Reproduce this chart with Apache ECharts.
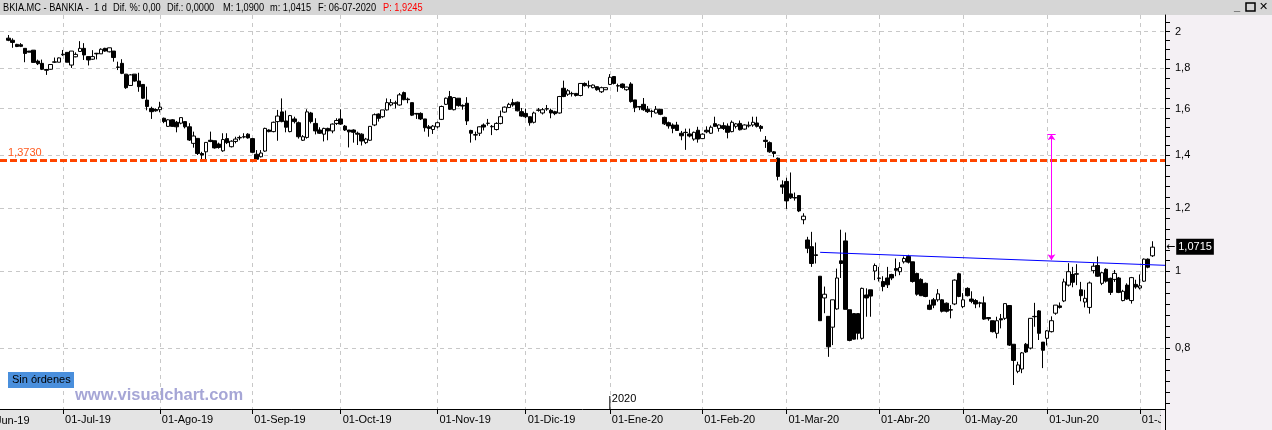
<!DOCTYPE html>
<html>
<head>
<meta charset="utf-8">
<script src="https://cdn.jsdelivr.net/npm/echarts@6/dist/echarts.min.js"></script>
<style>
html,body{margin:0;padding:0;background:#fff;}
#chart{width:1272px;height:430px;}
</style>
</head>
<body>
<div id="chart"></div>
<script>
// BKIA.MC - daily candles 12-06-2019 .. 06-07-2020 (log price scale)
let holidays = ['2019-12-25','2019-12-26','2020-01-01','2020-04-10','2020-04-13','2020-05-01'];
let monthNames = ['Ene','Feb','Mar','Abr','May','Jun','Jul','Ago','Sep','Oct','Nov','Dic'];

let open = [
1.962,1.95,1.927,1.925,1.905,1.89,1.895,1.836,1.824,1.792,
1.793,1.83,1.83,1.87,1.883,1.815,1.859,1.888,1.905,1.86,
1.846,1.878,1.875,1.905,1.886,1.89,1.805,1.824,1.768,1.711,
1.768,1.733,1.716,1.64,1.601,1.596,1.595,1.556,1.52,1.549,
1.538,1.534,1.541,1.518,1.447,1.468,1.405,1.412,1.46,1.458,
1.444,1.416,1.467,1.433,1.455,1.47,1.474,1.486,1.467,1.402,
1.392,1.415,1.504,1.497,1.541,1.585,1.544,1.497,1.553,1.536,
1.46,1.472,1.58,1.533,1.504,1.486,1.511,1.50,1.533,1.553,
1.521,1.504,1.504,1.49,1.486,1.45,1.46,1.526,1.575,1.563,
1.594,1.617,1.625,1.617,1.676,1.645,1.628,1.578,1.578,1.553,
1.518,1.506,1.518,1.551,1.62,1.657,1.595,1.649,1.615,1.625,
1.502,1.484,1.49,1.526,1.533,1.518,1.506,1.533,1.584,1.605,
1.628,1.63,1.586,1.578,1.563,1.538,1.592,1.58,1.598,1.592,
1.586,1.58,1.697,1.668,1.672,1.672,1.662,1.721,1.71,1.70,
1.705,1.68,1.69,1.716,1.756,1.71,1.718,1.69,1.718,1.641,
1.61,1.62,1.597,1.588,1.58,1.597,1.56,1.536,1.526,1.526,
1.49,1.494,1.487,1.465,1.503,1.467,1.503,1.49,1.532,1.511,
1.523,1.521,1.497,1.52,1.533,1.508,1.522,1.526,1.535,1.52,
1.46,1.45,1.412,1.386,1.283,1.296,1.25,1.237,1.244,1.16,
1.094,1.073,1.048,0.985,0.925,0.877,0.85,0.896,1.03,1.091,
0.894,0.884,0.884,0.823,0.933,0.947,1.0,0.98,0.97,0.98,
0.99,1.007,0.998,1.027,1.043,1.027,0.993,0.976,0.965,0.906,
0.92,0.92,0.92,0.911,0.894,0.909,0.992,0.902,0.951,0.922,
0.918,0.912,0.912,0.874,0.866,0.835,0.871,0.872,0.905,0.809,
0.748,0.753,0.809,0.80,0.877,0.891,0.814,0.823,0.839,0.885,
0.904,0.917,0.96,0.99,0.992,0.947,0.914,0.90,1.001,1.016,
0.965,1.005,0.979,0.976,0.98,0.918,0.96,0.918,0.962,0.952,
0.971,1.035,1.045
];
let close = [
1.95,1.938,1.915,1.916,1.877,1.884,1.829,1.822,1.793,1.788,
1.818,1.832,1.853,1.873,1.83,1.89,1.872,1.905,1.869,1.842,
1.86,1.875,1.90,1.89,1.908,1.855,1.803,1.772,1.70,1.764,
1.733,1.705,1.649,1.61,1.586,1.59,1.607,1.541,1.549,1.52,
1.518,1.559,1.518,1.461,1.478,1.405,1.399,1.451,1.455,1.428,
1.43,1.463,1.45,1.456,1.465,1.472,1.475,1.47,1.41,1.382,
1.407,1.511,1.497,1.538,1.566,1.541,1.516,1.568,1.541,1.475,
1.475,1.585,1.541,1.50,1.49,1.511,1.50,1.53,1.546,1.53,
1.504,1.496,1.494,1.486,1.457,1.465,1.52,1.572,1.556,1.594,
1.628,1.628,1.627,1.665,1.642,1.642,1.57,1.575,1.553,1.514,
1.511,1.521,1.536,1.61,1.649,1.597,1.652,1.614,1.612,1.544,
1.49,1.482,1.518,1.517,1.534,1.52,1.533,1.563,1.607,1.62,
1.617,1.59,1.566,1.563,1.536,1.58,1.594,1.595,1.60,1.58,
1.577,1.657,1.657,1.685,1.67,1.662,1.721,1.71,1.708,1.713,
1.69,1.70,1.70,1.752,1.721,1.708,1.701,1.703,1.633,1.605,
1.607,1.595,1.586,1.587,1.597,1.574,1.531,1.522,1.511,1.502,
1.479,1.493,1.478,1.494,1.465,1.486,1.496,1.516,1.52,1.526,
1.511,1.494,1.538,1.531,1.505,1.526,1.525,1.538,1.52,1.511,
1.455,1.412,1.405,1.315,1.275,1.225,1.236,1.235,1.19,1.172,
1.068,1.022,1.046,0.866,0.935,0.803,0.92,0.98,1.022,0.895,
0.818,0.821,0.835,0.951,0.925,0.93,1.016,0.979,0.956,0.961,
0.98,1.002,1.01,1.037,1.026,0.97,0.935,0.931,0.929,0.895,
0.906,0.936,0.89,0.89,0.893,0.974,0.929,0.92,0.931,0.916,
0.909,0.911,0.87,0.871,0.839,0.866,0.868,0.91,0.807,0.772,
0.762,0.789,0.791,0.872,0.876,0.835,0.795,0.841,0.866,0.906,
0.90,0.969,0.998,0.968,0.991,0.931,0.924,0.966,1.014,0.985,
0.995,0.971,0.94,0.993,0.94,0.943,0.922,0.981,0.955,0.958,
1.035,1.011,1.0715
];
let low = [
1.945,1.908,1.912,1.912,1.83,1.884,1.829,1.815,1.789,1.764,
1.79,1.826,1.83,1.864,1.83,1.80,1.856,1.886,1.842,1.813,
1.842,1.845,1.874,1.886,1.883,1.833,1.789,1.768,1.694,1.71,
1.73,1.68,1.645,1.592,1.553,1.586,1.583,1.534,1.518,1.518,
1.494,1.529,1.511,1.457,1.429,1.399,1.375,1.372,1.452,1.425,
1.425,1.412,1.444,1.43,1.447,1.46,1.468,1.467,1.408,1.379,
1.389,1.412,1.494,1.494,1.458,1.538,1.494,1.494,1.533,1.467,
1.457,1.467,1.533,1.485,1.487,1.455,1.46,1.49,1.526,1.526,
1.50,1.43,1.45,1.44,1.438,1.444,1.457,1.521,1.541,1.558,
1.591,1.611,1.601,1.614,1.639,1.625,1.566,1.553,1.548,1.497,
1.475,1.487,1.511,1.548,1.617,1.594,1.592,1.609,1.595,1.526,
1.45,1.46,1.478,1.502,1.523,1.482,1.502,1.529,1.581,1.603,
1.609,1.587,1.563,1.556,1.523,1.533,1.586,1.573,1.59,1.556,
1.57,1.577,1.654,1.66,1.657,1.657,1.658,1.705,1.697,1.697,
1.685,1.674,1.69,1.713,1.716,1.68,1.695,1.685,1.628,1.584,
1.593,1.59,1.58,1.56,1.578,1.57,1.526,1.51,1.49,1.50,
1.46,1.42,1.472,1.458,1.45,1.465,1.49,1.487,1.517,1.497,
1.504,1.468,1.494,1.511,1.502,1.505,1.515,1.518,1.515,1.497,
1.428,1.408,1.39,1.30,1.25,1.197,1.232,1.226,1.186,1.145,
1.053,1.012,1.022,0.866,0.885,0.78,0.807,0.894,0.98,0.895,
0.816,0.82,0.82,0.82,0.876,0.876,0.974,0.97,0.943,0.952,
0.974,0.985,0.988,1.022,1.022,0.967,0.931,0.931,0.927,0.893,
0.898,0.915,0.887,0.887,0.872,0.906,0.927,0.898,0.929,0.911,
0.898,0.90,0.868,0.866,0.837,0.823,0.847,0.868,0.805,0.719,
0.744,0.744,0.789,0.797,0.851,0.819,0.755,0.806,0.837,0.881,
0.897,0.914,0.956,0.954,0.96,0.916,0.90,0.884,0.993,0.983,
0.96,0.967,0.933,0.969,0.938,0.916,0.92,0.91,0.95,0.948,
0.969,1.008,1.0415
];
let high = [
1.98,1.961,1.93,1.934,1.905,1.89,1.895,1.844,1.844,1.795,
1.82,1.855,1.855,1.896,1.883,1.89,1.883,1.945,1.934,1.86,
1.895,1.88,1.905,1.908,1.908,1.89,1.833,1.846,1.768,1.768,
1.768,1.775,1.716,1.705,1.609,1.601,1.632,1.559,1.552,1.552,
1.544,1.559,1.541,1.534,1.497,1.468,1.412,1.451,1.497,1.458,
1.45,1.49,1.49,1.46,1.475,1.48,1.49,1.49,1.47,1.419,
1.419,1.514,1.507,1.541,1.594,1.648,1.591,1.571,1.563,1.541,
1.482,1.597,1.585,1.556,1.516,1.514,1.514,1.533,1.556,1.597,
1.526,1.504,1.507,1.497,1.49,1.47,1.521,1.578,1.578,1.594,
1.648,1.645,1.637,1.674,1.681,1.652,1.628,1.58,1.583,1.553,
1.526,1.526,1.541,1.614,1.652,1.684,1.654,1.649,1.62,1.654,
1.505,1.497,1.52,1.533,1.553,1.526,1.538,1.591,1.61,1.627,
1.646,1.633,1.603,1.60,1.563,1.586,1.603,1.603,1.617,1.60,
1.59,1.66,1.735,1.693,1.68,1.672,1.721,1.726,1.735,1.716,
1.705,1.705,1.70,1.768,1.756,1.72,1.721,1.705,1.727,1.641,
1.61,1.65,1.612,1.595,1.612,1.597,1.563,1.541,1.533,1.54,
1.50,1.51,1.51,1.497,1.518,1.49,1.52,1.524,1.563,1.529,
1.538,1.533,1.546,1.535,1.546,1.529,1.541,1.563,1.563,1.526,
1.478,1.455,1.415,1.389,1.30,1.31,1.33,1.255,1.246,1.182,
1.104,1.12,1.086,0.985,0.956,0.877,0.92,1.007,1.127,1.118,
0.894,0.884,0.884,0.953,0.951,0.947,1.022,1.012,0.985,1.012,
0.992,1.037,1.026,1.043,1.048,1.027,0.995,0.979,0.967,0.92,
0.925,0.949,0.922,0.913,0.906,0.976,0.995,0.938,0.954,0.943,
0.922,0.915,0.929,0.874,0.866,0.876,0.883,0.91,0.905,0.809,
0.769,0.791,0.812,0.872,0.912,0.893,0.814,0.843,0.877,0.906,
0.913,0.978,1.023,1.012,1.02,0.969,0.947,0.97,1.023,1.043,
0.998,1.008,0.981,1.003,0.983,0.947,0.965,0.983,0.975,0.99,
1.037,1.037,1.09
];

let yMajor = [0.8, 1, 1.2, 1.4, 1.6, 1.8, 2];
let minorSplits = [7, 6, 5, 5, 4, 4];     // small ticks between two labelled values
let supportLevel = 1.373;
let lastPrice = 1.0715;
let necklineStart = ['2020-03-12', 1.0556];
let necklineEnd = 1.0166;
let targetDate = '2020-06-02';
let targetRange = [1.486, 1.032];

let lg = (v) => Math.log(v);
let yMin = -0.3994, yMax = 0.741;
let font = 'Liberation Sans, Arial, sans-serif';

// trading days
let dates = [];
let day = new Date(Date.UTC(2019, 5, 12));
while (dates.length < open.length) {
    let iso = day.toISOString().slice(0, 10);
    let wd = day.getUTCDay();
    if (wd !== 0 && wd !== 6 && holidays.indexOf(iso) < 0) dates.push(iso);
    day.setUTCDate(day.getUTCDate() + 1);
}
let cats = ['p0', 'p1'].concat(dates, ['q0', 'q1', 'q2']);
let monthStart = cats.map((c, k) => {
    if (k < 3 || c.length !== 10 || cats[k - 1].length !== 10) return false;
    return c.slice(5, 7) !== cats[k - 1].slice(5, 7);
});
let isMonth = (idx) => monthStart[idx];
let fmtDate = (v) => '01-' + monthNames[+v.slice(5, 7) - 1] + '-' + v.slice(2, 4);
let fmtPrice = (v) => String(parseFloat(v.toFixed(2))).replace('.', ',');

let candles = cats.map((c) => {
    let k = dates.indexOf(c);
    if (k < 0) return ['-', '-', '-', '-'];
    return [lg(open[k]), lg(close[k]), lg(low[k]), lg(high[k])];
});

// every tick of the price axis: labelled ones plus the small ones between them
let allTicks = yMajor.map(lg);
yMajor.slice(0, -1).forEach((v, k) => {
    let a = lg(v), b = lg(yMajor[k + 1]), n = minorSplits[k];
    for (let j = 1; j < n; j++) allTicks.push(a + (b - a) * j / n);
});
let stepLo = (lg(1) - lg(0.8)) / 7, stepHi = (lg(2) - lg(1.8)) / 4;
for (let t = lg(0.8) - stepLo; t > yMin; t -= stepLo) allTicks.push(t);
for (let t = lg(2) + stepHi; t < yMax; t += stepHi) allTicks.push(t);
allTicks.sort((a, b) => a - b);

let tIdx = cats.indexOf(targetDate);

let titleParts = [
    ['BKIA.MC - BANKIA -', 3, '#000'], ['1 d', 94, '#000'], ['Dif. %: 0,00', 113, '#000'],
    ['Dif.: 0,0000', 167, '#000'], ['M: 1,0900', 223, '#000'], ['m: 1,0415', 270, '#000'],
    ['F: 06-07-2020', 318, '#000'], ['P: 1,9245', 383, '#ff0000']
];

let graphics = [
    {type: 'rect', z: -1, shape: {x: 0, y: 0, width: 1272, height: 15}, style: {fill: '#d6d6d6'}},
    {type: 'rect', z: -1, shape: {x: 0, y: 409, width: 1165, height: 21}, style: {fill: '#e4e4e4'}},
    // right panel corner hides the label of the month that runs past the plot
    {type: 'rect', z: 40, shape: {x: 1161, y: 410, width: 111, height: 20}, style: {fill: '#f4f0f4'}},
    {type: 'line', z: 41, shape: {x1: 1165.5, y1: 409, x2: 1165.5, y2: 430}, style: {stroke: '#000', lineWidth: 1}},
    {type: 'rect', z: 50, shape: {x: 8, y: 372, width: 66, height: 16}, style: {fill: '#4a8fdc'}},
    {type: 'text', z: 51, x: 12, y: 380, style: {text: 'Sin órdenes', fill: '#000', font: '11px ' + font, verticalAlign: 'middle'}},
    {type: 'text', z: 50, x: 75, y: 395, style: {text: 'www.visualchart.com', fill: '#a6a6d6', font: 'bold 16.5px ' + font, verticalAlign: 'middle'}},
    {type: 'text', z: 50, x: -20, y: 415, style: {text: '01-Jun-19', fill: '#000', font: '11px ' + font, verticalAlign: 'top'}},
    {type: 'text', z: 50, x: 1234, y: 7, style: {text: '_', fill: '#000', font: 'bold 11px ' + font, verticalAlign: 'middle'}},
    {type: 'rect', z: 50, shape: {x: 1246, y: 3, width: 9, height: 8}, style: {fill: 'none', stroke: '#000', lineWidth: 1.5}},
    {type: 'text', z: 50, x: 1259, y: 7, style: {text: '✕', fill: '#000', font: 'bold 11px DejaVu Sans', verticalAlign: 'middle'}}
];
titleParts.forEach((p) => {
    graphics.push({type: 'text', z: 50, x: p[1], y: 8, scaleX: 0.84,
        style: {text: p[0], fill: p[2], font: '11px ' + font, verticalAlign: 'middle'}});
});

let chart = echarts.init(document.getElementById('chart'));
let option = {
    animation: false,
    backgroundColor: '#f4f0f4',
    grid: {left: 0, right: 107, top: 15, bottom: 21, show: true, backgroundColor: '#fff', borderWidth: 0},
    xAxis: {
        type: 'category', data: cats, boundaryGap: false,
        axisLine: {onZero: false, lineStyle: {color: '#000', width: 1}},
        axisTick: {interval: isMonth, length: 5, lineStyle: {color: '#000'}},
        axisLabel: {interval: isMonth, formatter: fmtDate, align: 'left', margin: 5,
            color: '#000', fontSize: 11, fontFamily: font, padding: [0, 0, 0, 2]},
        splitLine: {show: true, interval: isMonth, lineStyle: {color: '#c8c8c8', type: [4, 4]}}
    },
    yAxis: [{
        // price scale on the right: all ticks, labels on the round values
        type: 'value', position: 'right', min: yMin, max: yMax,
        axisLine: {show: true, onZero: false, lineStyle: {color: '#000'}},
        axisTick: {show: true, length: 5, customValues: allTicks, lineStyle: {color: '#000'}},
        axisLabel: {customValues: yMajor.map(lg), formatter: (v) => fmtPrice(Math.exp(v)),
            margin: 10, color: '#000', fontSize: 11, fontFamily: font},
        splitLine: {show: false}
    }, {
        // only carries the horizontal grid lines at the labelled values
        type: 'value', min: yMin, max: yMax,
        axisLine: {show: false},
        axisTick: {show: false, customValues: yMajor.map(lg)},
        axisLabel: {show: false},
        splitLine: {show: true, lineStyle: {color: '#c8c8c8', type: [4, 4]}}
    }],
    series: [{
        type: 'candlestick',
        data: candles,
        barWidth: 4,
        itemStyle: {color: '#fff', borderColor: '#000', color0: '#000', borderColor0: '#000', borderWidth: 1},
        markLine: {
            silent: true,
            symbol: ['none', 'none'],
            data: [
                {yAxis: lg(supportLevel),
                    lineStyle: {color: '#ff4500', width: 3, type: [7, 3]},
                    label: {show: true, position: 'insideStartTop', distance: [8, 2], formatter: '1,3730',
                        color: '#ff5a1f', fontSize: 11, fontFamily: font}},
                [{coord: [necklineStart[0], lg(necklineStart[1])]},
                 {coord: [cats[cats.length - 1], lg(necklineEnd)]}],
                [{coord: [targetDate, lg(targetRange[0])], symbol: 'arrow', symbolSize: 6},
                 {coord: [targetDate, lg(targetRange[1])], symbol: 'arrow', symbolSize: 6}],
                [{coord: [cats[tIdx - 1], lg(targetRange[0])]},
                 {coord: [cats[tIdx + 1], lg(targetRange[0])]}]
            ].map((d) => {
                if (Array.isArray(d)) {
                    let isTarget = d[0].coord[0] === targetDate || d[0].coord[0] === cats[tIdx - 1];
                    d[0].lineStyle = {color: isTarget ? '#ff00ff' : '#0000ff', width: 1, type: 'solid'};
                    d[0].label = {show: false};
                }
                return d;
            })
        }
    }, {
        // last price flag on the price axis
        type: 'line',
        data: [],
        markLine: {
            silent: true,
            symbol: ['none', 'none'],
            data: [{yAxis: lg(lastPrice),
                lineStyle: {color: 'rgba(0,0,0,0)', width: 0},
                label: {show: true, position: 'end', distance: 1,
                    formatter: '{a|←}{b|1,0715}',
                    rich: {
                        a: {color: '#000', fontSize: 11, fontFamily: 'DejaVu Sans', padding: [0, 1, 0, 0]},
                        b: {color: '#fff', backgroundColor: '#000', fontSize: 11, fontFamily: font, padding: [3, 2, 2, 2]}
                    }}}]
        }
    }],
    graphic: graphics
};
chart.setOption(option);

// "2020" year marker over the first session of January
let jan = cats.indexOf(dates.find((d) => d.slice(0, 4) === '2020'));
let px = chart.convertToPixel({xAxisIndex: 0}, jan);
graphics.push({type: 'line', z: 50, shape: {x1: px, y1: 396, x2: px, y2: 409}, style: {stroke: '#000', lineWidth: 1}});
graphics.push({type: 'text', z: 50, x: px + 2, y: 399, style: {text: '2020', fill: '#000', font: '11px ' + font, verticalAlign: 'middle'}});
chart.setOption({graphic: graphics});
</script>
</body>
</html>
